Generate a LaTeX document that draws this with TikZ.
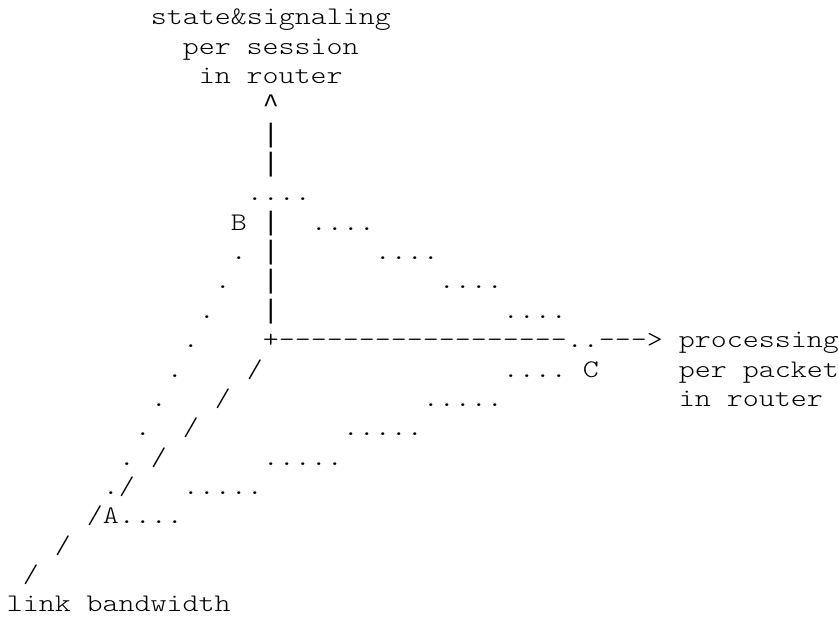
\documentclass[tikz,border=0pt]{standalone}
\usepackage{fontspec}
\newfontfamily\wordfont{lmmonolt10-regular.otf}[FakeStretch=1.203]
\newfontfamily\markfont{Liberation Mono}[Ligatures=ResetAll]

\tikzset{
    glyph/.style = {font=\wordfont\fontsize{19}{22}\selectfont, inner sep=0pt, anchor=base west},
    stem/.style = {font=\markfont\fontsize{20}{22}\selectfont, inner sep=0pt, anchor=base west}
}

\begin{document}
\begin{tikzpicture}[x = 12pt, y = -22pt]
    \useasboundingbox (-0.406,-0.852) rectangle (52.03,20.148);
    % vertical axis and its label
    \node[glyph] (top1) at (9,0) {state\&signaling};
    \node[glyph] (top2) at (11,1) {per session};
    \node[glyph] (top3) at (12,2) {in router};
    \node[stem] (vhead) at (16,3) {\symbol{"5E}};
    \node[stem] (vbar1) at (16,4) {|};
    \node[stem] (vbar2) at (16,5) {|};
    \node[glyph] (apex) at (15,6) {....};
    \node[glyph] (labB) at (14,7) {B};
    \node[stem] (vbar3) at (16,7) {|};
    \node[glyph] (slope1) at (19,7) {....};
    \node[glyph] (left1) at (14,8) {.};
    \node[stem] (vbar4) at (16,8) {|};
    \node[glyph] (slope2) at (23,8) {....};
    \node[glyph] (left2) at (13,9) {.};
    \node[stem] (vbar5) at (16,9) {|};
    \node[glyph] (slope3) at (27,9) {....};
    \node[glyph] (left3) at (12,10) {.};
    \node[stem] (vbar6) at (16,10) {|};
    \node[glyph] (slope4) at (31,10) {....};
    % horizontal axis and its label
    \node[glyph] (left4) at (11,11) {.};
    \node[glyph] (haxis) at (16,11) {+------------------..--->};
    \node[glyph] (right1) at (42,11) {processing};
    \node[glyph] (left5) at (10,12) {.};
    \node[glyph] (diag1) at (15,12) {/};
    \node[glyph] (lower1) at (31,12) {....};
    \node[glyph] (labC) at (36,12) {C};
    \node[glyph] (right2) at (42,12) {per packet};
    \node[glyph] (left6) at (9,13) {.};
    \node[glyph] (diag2) at (13,13) {/};
    \node[glyph] (lower2) at (26,13) {.....};
    \node[glyph] (right3) at (42,13) {in router};
    \node[glyph] (left7) at (8,14) {.};
    \node[glyph] (diag3) at (11,14) {/};
    \node[glyph] (lower3) at (21,14) {.....};
    \node[glyph] (left8) at (7,15) {.};
    \node[glyph] (diag4) at (9,15) {/};
    \node[glyph] (lower4) at (16,15) {.....};
    \node[glyph] (left9) at (6,16) {.};
    \node[glyph] (diag5) at (7,16) {/};
    \node[glyph] (lower5) at (11,16) {.....};
    % depth axis and its label
    \node[glyph] (diag6) at (5,17) {/};
    \node[glyph] (labA) at (6,17) {A};
    \node[glyph] (base1) at (7,17) {....};
    \node[glyph] (diag7) at (3,18) {/};
    \node[glyph] (diag8) at (1,19) {/};
    \node[glyph] (bottom) at (0,20) {link bandwidth};
\end{tikzpicture}
\end{document}
